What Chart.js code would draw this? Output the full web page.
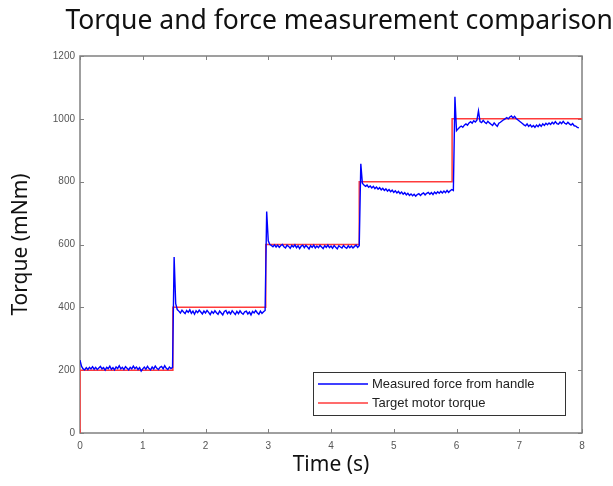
<!DOCTYPE html>
<html>
<head>
<meta charset="utf-8">
<script src="https://cdn.jsdelivr.net/npm/chart.js@4.4.1/dist/chart.umd.min.js"></script>
<style>
  html, body { margin: 0; padding: 0; background: #fff; }
</style>
</head>
<body>
<canvas id="torqueChart" width="613" height="486"></canvas>
<script>
// handle force is sampled every 25 ms, one array per torque level
const sampleStep = 0.025;

const measuredLevel1 = [
  232, 212, 204, 201, 208, 202, 209, 204, 211, 203,
  209, 202, 207, 212, 204, 208, 200, 209, 205, 213,
  203, 208, 201, 210, 205, 214, 204, 209, 202, 211,
  206, 201, 209, 204, 213, 205, 210, 202, 208, 197,
  204, 210, 203, 212, 205, 201, 210, 204, 213, 206,
  202, 209, 212, 204, 214, 206, 202, 210, 205, 209
];
const measuredLevel2 = [
  560, 412, 393, 388, 382, 391, 385, 380, 390, 384,
  392, 381, 388, 378, 389, 383, 391, 385, 379, 388,
  382, 390, 384, 377, 387, 381, 389, 383, 378, 388,
  382, 376, 387, 390, 380, 386, 379, 389, 383, 377,
  387, 380, 389, 382, 378, 386, 388, 379, 385, 376,
  387, 382, 390, 383, 378, 388, 381, 386, 390
];
const measuredLevel3 = [
  705, 612, 600, 597, 593, 599, 592, 598, 591, 597,
  600, 593, 589, 598, 594, 588, 597, 592, 599, 590,
  596, 587, 595, 598, 590, 597, 592, 586, 596, 591,
  598, 589, 595, 590, 597, 592, 587, 596, 591, 598,
  590, 595, 588, 597, 591, 586, 596, 592, 589, 597,
  591, 588, 596, 590, 595, 589, 594, 598, 591, 596
];
const measuredLevel4 = [
  857, 795, 789, 785, 789, 782, 786, 780, 785, 778,
  783, 776, 781, 774, 779, 772, 777, 770, 775, 768,
  773, 766, 771, 764, 769, 762, 767, 760, 765, 758,
  763, 756, 761, 755, 760, 754, 759, 762, 756, 761,
  764, 758, 763, 766, 760, 765, 759, 767, 762, 768,
  763, 769, 764, 770, 765, 772, 766, 771, 775, 772
];
const measuredLevel5 = [
  1070, 962, 968, 973, 977, 973, 980, 984, 980, 987,
  991, 986, 994, 990, 996, 1025, 991, 988, 995, 989,
  985, 992, 987, 983, 979, 987, 981, 976, 986, 989,
  993, 997, 1000, 1004, 1000, 1006, 1009, 1003, 1008, 1001,
  997, 993, 989, 985, 981, 978, 984, 976, 981, 974,
  979, 973, 980, 975, 982, 976, 984, 979, 986, 981,
  987, 982, 989, 984, 991, 985, 983, 990, 985, 992,
  986, 983, 989, 984, 980, 985, 978, 977, 973, 971
];

const targetTime = [0, 0, 1.48, 1.48, 2.96, 2.96, 4.45, 4.45, 5.93, 5.93, 8];
const targetTorque = [0, 200, 200, 400, 400, 600, 600, 800, 800, 1000, 1000];

const timeTicks = [0, 1, 2, 3, 4, 5, 6, 7, 8];
const torqueTicks = [0, 200, 400, 600, 800, 1000, 1200];

const measuredTorque = [].concat(measuredLevel1, measuredLevel2, measuredLevel3, measuredLevel4, measuredLevel5);
const measuredPoints = measuredTorque.map((v, i) => ({ x: i * sampleStep, y: v }));
const targetPoints = targetTime.map((t, i) => ({ x: t, y: targetTorque[i] }));

// matlab style box with ticks pointing inwards on all four sides
const boxTicks = {
  id: "boxTicks",
  beforeDatasetsDraw(chart) {
    const { ctx, chartArea, scales } = chart;
    const { left, right, top, bottom } = chartArea;
    ctx.save();
    ctx.strokeStyle = "#808080";
    ctx.lineWidth = 1.5;
    ctx.strokeRect(left, top, right - left, bottom - top);
    ctx.lineWidth = 1;
    ctx.beginPath();
    scales.x.ticks.forEach((t) => {
      const px = Math.round(scales.x.getPixelForValue(t.value)) + 0.5;
      ctx.moveTo(px, bottom); ctx.lineTo(px, bottom - 4);
      ctx.moveTo(px, top); ctx.lineTo(px, top + 4);
    });
    scales.y.ticks.forEach((t) => {
      const py = Math.round(scales.y.getPixelForValue(t.value)) + 0.5;
      ctx.moveTo(left, py); ctx.lineTo(left + 4, py);
      ctx.moveTo(right, py); ctx.lineTo(right - 4, py);
    });
    ctx.stroke();
    ctx.restore();
  }
};

const boxLegend = {
  id: "boxLegend",
  afterDraw(chart) {
    const { ctx, chartArea } = chart;
    const w = 252, h = 43;
    const bx = chartArea.right - 17 - w;
    const by = chartArea.bottom - 18 - h;
    ctx.save();
    ctx.fillStyle = "#fff";
    ctx.fillRect(bx, by, w, h);
    ctx.strokeStyle = "#333";
    ctx.lineWidth = 1;
    ctx.strokeRect(bx + 0.5, by + 0.5, w, h);
    ctx.font = "13px 'Liberation Sans', Arial, sans-serif";
    ctx.textBaseline = "middle";
    chart.data.datasets.forEach((ds, i) => {
      const ry = by + 12 + i * 19;
      ctx.strokeStyle = ds.borderColor;
      ctx.lineWidth = 1.5;
      ctx.beginPath();
      ctx.moveTo(bx + 5, ry);
      ctx.lineTo(bx + 55, ry);
      ctx.stroke();
      ctx.fillStyle = "#222";
      ctx.fillText(ds.label, bx + 59, ry);
    });
    ctx.restore();
  }
};

const tickFont = { family: "'Liberation Sans', Arial, sans-serif", size: 10 };
const labelFont = { family: "'Noto Sans', sans-serif", size: 21 };

new Chart(document.getElementById("torqueChart"), {
  type: "line",
  data: {
    datasets: [
      {
        label: "Measured force from handle",
        data: measuredPoints,
        borderColor: "#0000ff",
        borderWidth: 1.4,
        pointRadius: 0,
        tension: 0,
      },
      {
        label: "Target motor torque",
        data: targetPoints,
        borderColor: "#ff3b3b",
        borderWidth: 1.5,
        pointRadius: 0,
        tension: 0,
      },
    ],
  },
  options: {
    responsive: false,
    animation: false,
    devicePixelRatio: 1,
    layout: { padding: 0 },
    plugins: {
      legend: { display: false },
      tooltip: { enabled: false },
      title: {
        display: true,
        text: "Torque and force measurement comparison",
        align: "end",
        color: "#111",
        font: { family: "'Noto Sans', sans-serif", size: 26.5, weight: "normal" },
        padding: { top: 6, bottom: 18.2 },
      },
    },
    scales: {
      x: {
        type: "linear",
        min: 0,
        max: 8,
        afterBuildTicks: (s) => { s.ticks = timeTicks.map((v) => ({ value: v })); },
        afterFit: (s) => { s.height = 53; },
        grid: { display: false, drawTicks: false },
        border: { display: false },
        ticks: { color: "#555", font: tickFont, padding: 7, maxRotation: 0, callback: (v) => String(v) },
        title: { display: true, text: "Time (s)", color: "#111", font: labelFont, padding: { top: 0, bottom: 8 } },
      },
      y: {
        type: "linear",
        min: 0,
        max: 1200,
        afterBuildTicks: (s) => { s.ticks = torqueTicks.map((v) => ({ value: v })); },
        afterFit: (s) => { s.width = 80; },
        grid: { display: false, drawTicks: false },
        border: { display: false },
        ticks: { color: "#555", font: tickFont, padding: 5, callback: (v) => String(v) },
        title: { display: true, text: "Torque (mNm)", color: "#111", font: labelFont, padding: { top: 8, bottom: 0 } },
      },
      yRight: {
        type: "linear",
        position: "right",
        afterFit: (s) => { s.width = 31; },
        grid: { display: false, drawTicks: false },
        border: { display: false },
        ticks: { display: false },
      },
    },
  },
  plugins: [boxTicks, boxLegend],
});
</script>
</body>
</html>
